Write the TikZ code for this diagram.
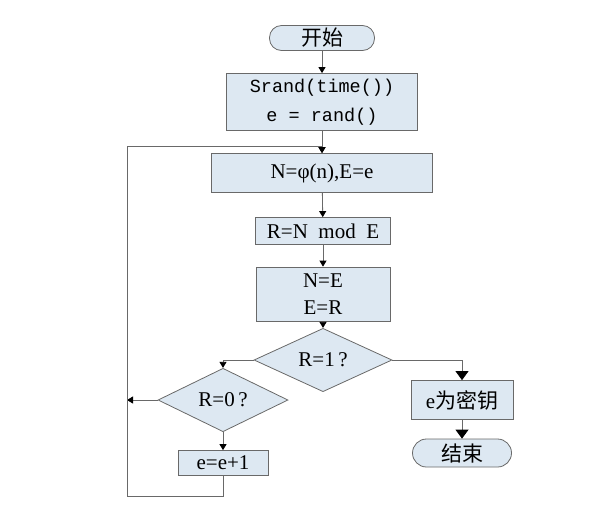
\documentclass[tikz,border=0pt]{standalone}
\usepackage{fontspec}
\setmainfont{Liberation Serif}
\setmonofont{Liberation Mono}
\newfontfamily\cjk{Noto Sans CJK SC}
\usetikzlibrary{shapes.geometric, arrows.meta}

\definecolor{boxfill}{RGB}{221,232,242}
\definecolor{boxline}{RGB}{105,105,105}

\tikzset{
	proc/.style={draw=boxline, fill=boxfill, rectangle, inner sep=0pt, align=center},
	term/.style={draw=boxline, fill=boxfill, rectangle, rounded corners=12pt, inner sep=0pt},
	cond/.style={draw=boxline, fill=boxfill, diamond, inner sep=0pt},
	flow/.style={draw=boxline, -{Triangle[color=black, length=6pt, width=7pt]}},
	bigflow/.style={draw=boxline, -{Triangle[color=black, length=9pt, width=13pt]}},
}

\begin{document}
\begin{tikzpicture}
	[x=1pt, y=-1pt, line width=0.8pt, font=\fontsize{21}{25}\selectfont]
	
	\useasboundingbox (0,0) rectangle (604,507);
	
	\node[term, minimum width=105pt, minimum height=25pt] (start) at (322,38) {\cjk\fontsize{21}{25}\selectfont 开始};
	\node[proc, minimum width=191pt, minimum height=57pt, font=\fontsize{18.5}{29}\selectfont\ttfamily] (init) at (322,102) {Srand(time())\\e = rand()};
	\node[proc, minimum width=221pt, minimum height=39pt] (phi) at (322,173) {N=φ(n),E=e};
	\node[proc, minimum width=135pt, minimum height=27pt] (mod) at (323,231) {R=N\ \ mod\ \ E};
	\node[proc, minimum width=134pt, minimum height=54pt, font=\fontsize{21}{27}\selectfont] (swap) at (323,294) {N=E\\E=R};
	\node[cond, minimum width=138pt, minimum height=46pt] (one) at (323,360) {R=1\,?};
	\node[cond, minimum width=130pt, minimum height=44pt] (zero) at (223,400) {R=0\,?};
	\node[proc, minimum width=90pt, minimum height=25pt] (inc) at (223,463) {e=e+1};
	\node[proc, minimum width=102pt, minimum height=39pt] (key) at (462,400) {e{\cjk 为密钥}};
	\node[term, minimum width=99pt, minimum height=28pt, rounded corners=14pt] (stop) at (462,453) {\cjk 结束};
	
	\coordinate (back) at (127,496);
	\coordinate (top) at (127,146);
	
	\draw[flow] (start) -- (init);
	\draw[flow] (init) -- (phi);
	\draw[flow] (phi) -- (mod);
	\draw[flow] (mod) -- (swap);
	\draw[flow] (swap) -- (one);
	\draw[flow] (one.west) -| (zero.north);
	\draw[bigflow] (one.east) -| (key.north);
	\draw[bigflow] (key) -- (stop);
	\draw[flow] (zero.west) -- (zero.west -| back);
	\draw[flow] (zero) -- (inc);
	%loop back to the top
	\draw[flow] (inc.south) |- (back) -- (top) -| (phi.north);
	
\end{tikzpicture}
\end{document}
